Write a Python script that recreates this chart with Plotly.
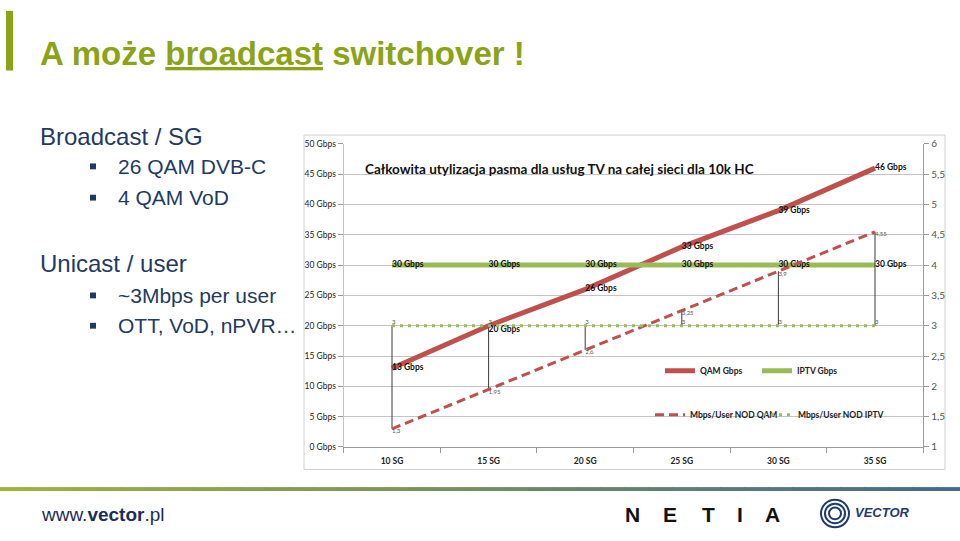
import plotly.graph_objects as go

# ---------------- data ----------------
categories = ["10 SG", "15 SG", "20 SG", "25 SG", "30 SG", "35 SG"]
qam_gbps = [13, 20, 26, 33, 39, 46]
iptv_gbps = [30, 30, 30, 30, 30, 30]
nod_qam = [1.3, 1.95, 2.6, 3.25, 3.9, 4.55]
nod_iptv = [3, 3, 3, 3, 3, 3]
left_ticks = [0, 5, 10, 15, 20, 25, 30, 35, 40, 45, 50]
right_ticks = [1, 1.5, 2, 2.5, 3, 3.5, 4, 4.5, 5, 5.5, 6]

W, H = 960, 541
def px(x):
    return x / W
def py(y):
    return 1 - y / H

CAL = "Lato, Roboto, sans-serif"
ARIAL = "Liberation Sans, Arial, sans-serif"
RED = "#c0504d"
GREEN = "#9bbb59"
NAVY = "#1f3b63"
TITLE_GREEN = "#8aa317"

xs = list(range(len(categories)))

def comma(v):
    return str(v).replace(".", ",")

fig = go.Figure()

# high-low lines between the two secondary-axis series
hl_x, hl_y = [], []
for i in xs:
    hl_x += [i, i, None]
    hl_y += [min(nod_qam[i], nod_iptv[i]), max(nod_qam[i], nod_iptv[i]), None]
fig.add_trace(go.Scatter(x=hl_x, y=hl_y, yaxis="y2", mode="lines",
                         line=dict(color="#3a3a3a", width=1), showlegend=False,
                         hoverinfo="skip"))

# secondary series
fig.add_trace(go.Scatter(x=xs, y=nod_qam, yaxis="y2", mode="lines", name="<b>Mbps/User NOD QAM</b>",
                         line=dict(color=RED, width=3, dash="9px,5px"), legend="legend3"))
fig.add_trace(go.Scatter(x=xs, y=nod_iptv, yaxis="y2", mode="lines", name="<b>Mbps/User NOD IPTV</b>",
                         line=dict(color=GREEN, width=3, dash="3px,5px"), legend="legend4"))

# primary series
fig.add_trace(go.Scatter(x=xs, y=qam_gbps, mode="lines", name="<b>QAM Gbps</b>",
                         line=dict(color=RED, width=5), legend="legend"))
fig.add_trace(go.Scatter(x=xs, y=iptv_gbps, mode="lines", name="<b>IPTV Gbps</b>",
                         line=dict(color=GREEN, width=5), legend="legend2"))

# data labels
lab_font = dict(family=CAL, size=8.5, color="#111111")
small_font = dict(family=CAL, size=6, color="#555555")
qam_pos = ["middle right" if v != 20 else "bottom right" for v in qam_gbps]
fig.add_trace(go.Scatter(x=xs, y=qam_gbps, mode="text", text=[f"<b>{v} Gbps</b>" for v in qam_gbps],
                         textposition=qam_pos, textfont=lab_font, showlegend=False, hoverinfo="skip"))
fig.add_trace(go.Scatter(x=xs, y=iptv_gbps, mode="text", text=[f"<b>{v} Gbps</b>" for v in iptv_gbps],
                         textposition="middle right", textfont=lab_font, showlegend=False, hoverinfo="skip"))
fig.add_trace(go.Scatter(x=xs, y=nod_qam, yaxis="y2", mode="text", text=[comma(v) for v in nod_qam],
                         textposition="bottom right", textfont=small_font, showlegend=False, hoverinfo="skip"))
fig.add_trace(go.Scatter(x=xs, y=nod_iptv, yaxis="y2", mode="text", text=[comma(v) for v in nod_iptv],
                         textposition="top right", textfont=small_font, showlegend=False, hoverinfo="skip"))

x0, x1 = px(343.7), px(923.3)
y0, y1 = py(451), py(141)

leg_common = dict(orientation="h", xanchor="left", yanchor="middle", bgcolor="rgba(0,0,0,0)",
                  font=dict(family=CAL, size=8.5, color="#222222"), itemwidth=30)

fig.update_layout(
    width=W, height=H, margin=dict(l=0, r=0, t=0, b=0),
    paper_bgcolor="white", plot_bgcolor="white",
    separators=", ",
    showlegend=True,
    xaxis=dict(domain=[x0, x1], range=[-0.5, len(categories) - 0.5],
               tickvals=xs, ticktext=[f"<b>{c}</b>" for c in categories],
               ticks="", showgrid=False, zeroline=False, ticklabelstandoff=6,
               showline=True, linecolor="#9a9a9a", linewidth=1,
               tickfont=dict(family=CAL, size=8.5, color="#222222"),
               minor=dict(tick0=-0.5, dtick=1, ticks="outside", ticklen=5, tickcolor="#9a9a9a",
                          showgrid=False),
               fixedrange=True),
    yaxis=dict(domain=[y0, y1], range=[0, 50], tickvals=left_ticks,
               ticktext=[f"{v} Gbps" for v in left_ticks],
               ticks="outside", ticklen=5, tickcolor="#9a9a9a",
               showgrid=True, gridcolor="#c4c4c4", gridwidth=1,
               zeroline=False, showline=True, linecolor="#c4c4c4",
               tickfont=dict(family=CAL, size=8.5, color="#222222")),
    yaxis2=dict(overlaying="y", side="right", anchor="x", range=[1, 6], tickvals=right_ticks,
                ticktext=[comma(v) for v in right_ticks],
                ticks="outside", ticklen=5, tickcolor="#9a9a9a",
                showgrid=False, zeroline=False, showline=True, linecolor="#9a9a9a",
                tickfont=dict(family=CAL, size=10, color="#555555")),
    legend=dict(x=px(660), y=py(373), **leg_common),
    legend2=dict(x=px(757), y=py(373), **leg_common),
    legend3=dict(x=px(650), y=py(418), **leg_common),
    legend4=dict(x=px(758), y=py(418), **leg_common),
)

shapes = []
annotations = []

# chart frame
shapes.append(dict(type="rect", xref="paper", yref="paper", x0=px(304), x1=px(945), y0=py(474), y1=py(132),
                   line=dict(color="#d0d0d0", width=1), layer="below"))

# chart title
annotations.append(dict(xref="paper", yref="paper", x=px(363), y=py(167), xanchor="left", yanchor="middle",
                        text="<b>Całkowita utylizacja pasma dla usług TV na całej sieci dla 10k HC</b>",
                        showarrow=False, font=dict(family=CAL, size=13.5, color="#111111")))

# slide header
shapes.append(dict(type="rect", xref="paper", yref="paper", x0=px(6), x1=px(13), y0=py(66), y1=py(5),
                   fillcolor=TITLE_GREEN, line=dict(width=0)))
annotations.append(dict(xref="paper", yref="paper", x=px(38), y=py(49), xanchor="left", yanchor="middle",
                        text="<b>A może <span style='text-decoration:underline'>broadcast</span> switchover !</b>",
                        showarrow=False, font=dict(family=ARIAL, size=33, color=TITLE_GREEN)))

# left text block
heads = [("Broadcast / SG", 133), ("Unicast / user", 263)]
for t, y in heads:
    annotations.append(dict(xref="paper", yref="paper", x=px(38), y=py(y), xanchor="left", yanchor="middle",
                            text=t, showarrow=False, font=dict(family=ARIAL, size=24, color=NAVY)))
bullets = [("26 QAM DVB-C", 164), ("4 QAM VoD", 196), ("~3Mbps per user", 296), ("OTT, VoD, nPVR…", 327)]
for t, y in bullets:
    annotations.append(dict(xref="paper", yref="paper", x=px(116), y=py(y), xanchor="left", yanchor="middle",
                            text=t, showarrow=False, font=dict(family=ARIAL, size=21, color=NAVY)))
    shapes.append(dict(type="rect", xref="paper", yref="paper", x0=px(90), x1=px(96), y0=py(y + 3), y1=py(y - 3),
                       fillcolor=NAVY, line=dict(width=0)))

# bottom gradient line
c_start = (160, 180, 60)
c_end = (70, 105, 140)
n = 40
for i in range(n):
    t = i / (n - 1)
    c = tuple(int(c_start[k] + (c_end[k] - c_start[k]) * t) for k in range(3))
    shapes.append(dict(type="rect", xref="paper", yref="paper", x0=px(i * W / n), x1=px((i + 1) * W / n + 1),
                       y0=py(496), y1=py(492), fillcolor=f"rgb{c}", line=dict(width=0)))

annotations.append(dict(xref="paper", yref="paper", x=px(39), y=py(520), xanchor="left", yanchor="middle",
                        text="www.<b>vector</b>.pl", showarrow=False,
                        font=dict(family=ARIAL, size=19, color="#1b2f52")))
for letter, x in zip("NETIA", [623, 661, 700, 735, 763]):
    annotations.append(dict(xref="paper", yref="paper", x=px(x), y=py(520), xanchor="left", yanchor="middle",
                            text=f"<b>{letter}</b>", showarrow=False,
                            font=dict(family=ARIAL, size=21, color="#111111")))
# VECTOR logo
for r in [14, 10, 6]:
    shapes.append(dict(type="circle", xref="paper", yref="paper", x0=px(835 - r), x1=px(835 + r),
                       y0=py(519 + r), y1=py(519 - r), line=dict(color="#1f3a6e", width=2)))
annotations.append(dict(xref="paper", yref="paper", x=px(853), y=py(518), xanchor="left", yanchor="middle",
                        text="<b><i>VECTOR</i></b>", showarrow=False,
                        font=dict(family=ARIAL, size=13, color="#1f3a6e")))

fig.update_layout(shapes=shapes, annotations=annotations)
fig.write_html("out.html")
